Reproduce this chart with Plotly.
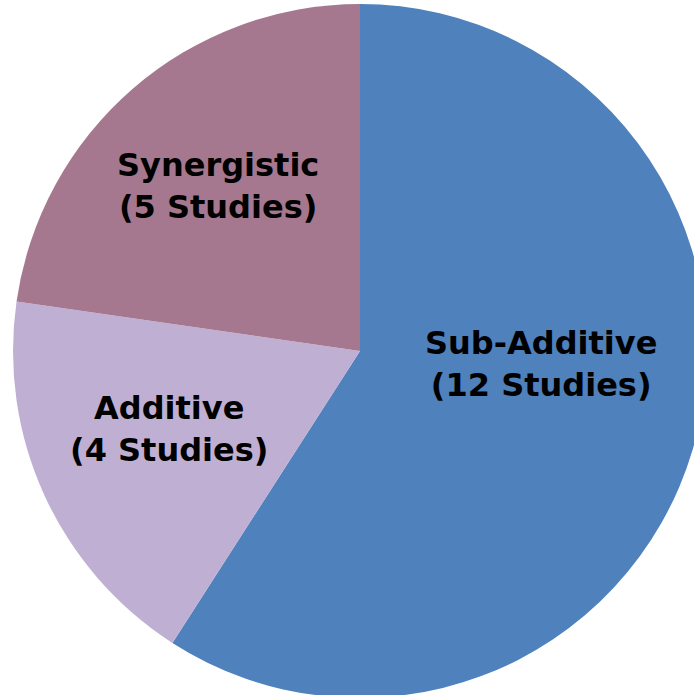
import plotly.graph_objects as go

categories = ["Sub-Additive", "Additive", "Synergistic"]
slice_values = [13, 4, 5]          # slice sizes as drawn
study_counts = [12, 4, 5]          # counts printed in the labels
colors = ["#4F81BD", "#BFB0D3", "#A5788F"]

# label anchor positions (pixels in the page)
label_px = [(541, 364), (169, 429), (218, 186)]

W, H = 720, 700
ML, MR, MT, MB = 13, 13, 4, 2
PW, PH = W - ML - MR, H - MT - MB

fig = go.Figure(go.Pie(
    labels=categories,
    values=slice_values,
    textinfo="none",
    sort=False,
    direction="clockwise",
    rotation=0,
    marker=dict(colors=colors, line=dict(width=0)),
    showlegend=False,
    hoverinfo="label",
))

for c, n, (px, py) in zip(categories, study_counts, label_px):
    fig.add_annotation(
        x=(px - ML) / PW, y=1 - (py - MT) / PH, xref="paper", yref="paper",
        xanchor="center", yanchor="middle",
        text=f"<b>{c}<br>({n} Studies)</b>",
        showarrow=False,
        font=dict(family="DejaVu Sans", size=32, color="black"),
    )

fig.update_layout(
    width=W, height=H,
    margin=dict(l=ML, r=MR, t=MT, b=MB),
    paper_bgcolor="white",
)

fig.write_html(
    "out.html",
    config={"displayModeBar": False},
    post_script="document.body.style.margin='0';document.body.style.overflow='hidden';document.documentElement.style.overflow='hidden';",
)
